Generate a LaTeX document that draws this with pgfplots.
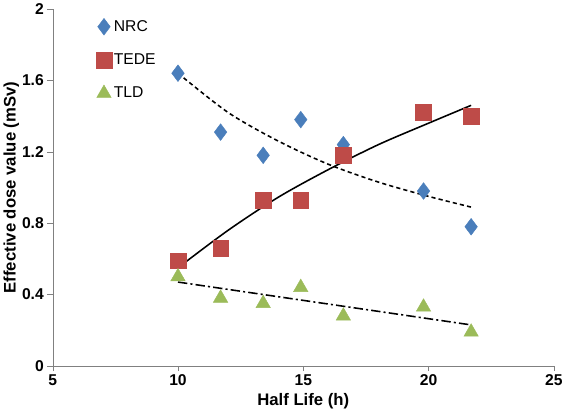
\documentclass[border=0pt]{standalone}
\usepackage{pgfplots}
\pgfplotsset{compat=1.18}
\usepackage{fontspec}
\setmainfont{Liberation Sans}
\definecolor{nrc}{RGB}{74,126,187}
\definecolor{tede}{RGB}{190,75,72}
\definecolor{tld}{RGB}{155,187,89}
\begin{document}
\begin{tikzpicture}
\begin{axis}[
  scale only axis, width=480pt, height=342pt,
  xmin=5, xmax=25, ymin=0, ymax=2,
  xtick={5,10,15,20,25}, ytick={0,0.4,0.8,1.2,1.6,2},
  yticklabel style={/pgf/number format/fixed,/pgf/number format/precision=1},
  /pgf/number format/assume math mode=true,
  ticklabel style={font=\fontsize{15}{17}\selectfont\bfseries},
  axis lines=left, axis line style={-, gray}, tick style={gray},
  tick align=outside, major tick length=5pt,
  xlabel={\fontsize{16}{18}\selectfont\bfseries Half Life (h)},
  ylabel={\fontsize{16}{18}\selectfont\bfseries Effective dose value (mSv)},
  ylabel style={yshift=-4pt},
  legend style={draw=none, fill=none, at={(0.08,0.98)}, anchor=north west, font=\fontsize{15}{17}\selectfont, row sep=16pt},
  legend cell align=left,
]
\addplot[only marks, mark=diamond*, mark size=8pt, color=nrc] coordinates {(10,1.64)(11.7,1.31)(13.4,1.18)(14.9,1.38)(16.6,1.24)(19.8,0.98)(21.7,0.78)};
\addlegendentry{NRC}
\addplot[only marks, mark=square*, mark size=7.5pt, color=tede] coordinates {(10,0.59)(11.7,0.66)(13.4,0.93)(14.9,0.93)(16.6,1.18)(19.8,1.42)(21.7,1.40)};
\addlegendentry{TEDE}
\addplot[only marks, mark=triangle*, mark size=8pt, color=tld] coordinates {(10,0.50)(11.7,0.38)(13.4,0.35)(14.9,0.44)(16.6,0.28)(19.8,0.33)(21.7,0.19)};
\addlegendentry{TLD}
\addplot[black, line width=1.5pt, dash pattern=on 4pt off 3pt, smooth, forget plot] coordinates {(10,1.64)(12,1.42)(14,1.26)(16,1.13)(18,1.03)(20,0.95)(21.7,0.89)};
\addplot[black, line width=1.5pt, smooth, forget plot] coordinates {(10,0.55)(12,0.76)(14,0.945)(16,1.10)(18,1.24)(20,1.36)(21.7,1.46)};
\addplot[black, line width=1.5pt, dash pattern=on 9pt off 3pt on 2pt off 3pt, forget plot] coordinates {(10,0.47)(21.7,0.23)};
\end{axis}
\end{tikzpicture}
\end{document}
